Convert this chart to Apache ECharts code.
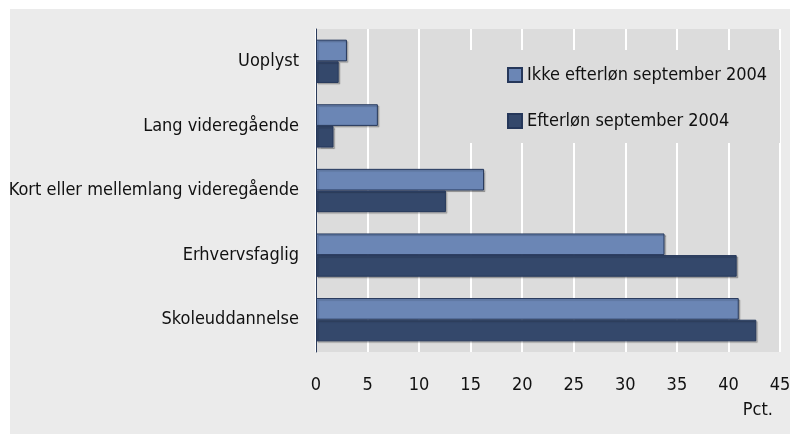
<!DOCTYPE html>
<html>
<head>
<meta charset="utf-8">
<script src="https://cdn.jsdelivr.net/npm/echarts@6/dist/echarts.min.js"></script>
<style>
    html, body {
        margin: 0;
        padding: 0;
        background: #ffffff;
    }
    #chart {
        position: absolute;
        left: 10px;
        top: 9px;
        width: 780px;
        height: 425px;
        background-color: #ebebeb;
    }
</style>
</head>
<body>
<div id="chart"></div>
<script>
const categories = ['Uoplyst', 'Lang videregående', 'Kort eller mellemlang videregående', 'Erhvervsfaglig', 'Skoleuddannelse'];
const ikkeEfterlon = [3.0, 6.0, 16.3, 33.8, 41.0];
const efterlon = [2.2, 1.7, 12.6, 40.8, 42.7];
const seriesNames = ['Ikke efterløn september 2004', 'Efterløn september 2004'];

const fontFamily = "'Liberation Sans Narrow', 'DejaVu Sans Condensed', 'Noto Sans', sans-serif";
const fontSize = 18;

let option = {
    animation: false,
    textStyle: { fontFamily: fontFamily },
    grid: {
        left: 306,
        right: 10,
        top: 20,
        bottom: 82,
        outerBoundsMode: 'none',
        containLabel: false,
        show: true,
        backgroundColor: '#dcdcdc',
        borderWidth: 0
    },
    legend: {
        orient: 'vertical',
        left: 497,
        top: 56,
        padding: 0,
        itemWidth: 14,
        itemHeight: 14,
        itemGap: 26,
        icon: 'rect',
        textStyle: {
            fontFamily: fontFamily,
            fontSize: fontSize,
            lineHeight: 20,
            color: '#111111'
        },
        data: seriesNames
    },
    // grey patch behind the legend hides the grid lines
    graphic: [{
        type: 'rect',
        z: 1,
        shape: { x: 445, y: 41, width: 325, height: 93 },
        style: { fill: '#dcdcdc' }
    }],
    xAxis: {
        type: 'value',
        min: 0,
        max: 45,
        interval: 5,
        name: 'Pct.',
        nameLocation: 'end',
        nameGap: -7,
        nameTextStyle: {
            fontFamily: fontFamily,
            fontSize: fontSize,
            color: '#111111',
            align: 'right',
            verticalAlign: 'top',
            padding: [49, 0, 0, 0]
        },
        axisLine: { show: false },
        axisTick: { show: false },
        axisLabel: {
            fontFamily: fontFamily,
            fontSize: fontSize,
            color: '#111111',
            margin: 24
        },
        splitLine: {
            show: true,
            lineStyle: { color: '#ffffff', width: 2 }
        }
    },
    yAxis: {
        type: 'category',
        inverse: true,
        data: categories,
        axisLine: {
            show: true,
            lineStyle: { color: '#2b3b5a', width: 1 }
        },
        axisTick: { show: false },
        axisLabel: {
            fontFamily: fontFamily,
            fontSize: fontSize,
            color: '#111111',
            margin: 17
        },
        splitLine: { show: false }
    },
    series: [
        {
            name: seriesNames[0],
            type: 'bar',
            data: ikkeEfterlon,
            barGap: '0%',
            barCategoryGap: '33%',
            itemStyle: {
                color: '#6b86b5',
                borderColor: '#25375a',
                borderWidth: 1,
                shadowColor: 'rgba(0,0,0,0.2)',
                shadowBlur: 1,
                shadowOffsetX: 1.5,
                shadowOffsetY: 1.5
            }
        },
        {
            name: seriesNames[1],
            type: 'bar',
            data: efterlon,
            barGap: '0%',
            barCategoryGap: '33%',
            itemStyle: {
                color: '#34486b',
                borderColor: '#25375a',
                borderWidth: 1,
                shadowColor: 'rgba(0,0,0,0.2)',
                shadowBlur: 1,
                shadowOffsetX: 1.5,
                shadowOffsetY: 1.5
            }
        }
    ]
};

const myChart = echarts.init(document.getElementById('chart'));
myChart.setOption(option);
</script>
</body>
</html>
